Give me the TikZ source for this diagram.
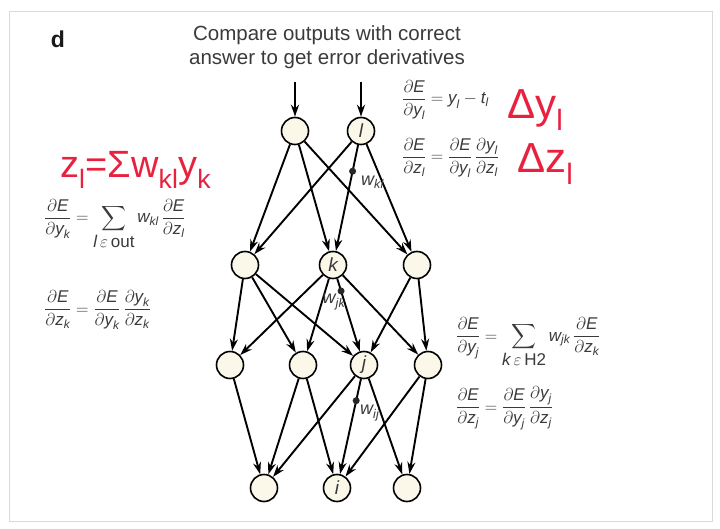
\documentclass[tikz,border=0pt]{standalone}
\usepackage{amsmath}
\usepackage{exscale}
\usepackage{fontspec}
\setmainfont{Liberation Sans}
\usetikzlibrary{arrows.meta,calc}
\definecolor{txt}{HTML}{3A3A3A}
\definecolor{cream}{HTML}{FBF8EA}
\definecolor{handred}{HTML}{E8213F}
\newcommand\I[1]{\textit{#1}}
\newcommand\pdf[3]{\dfrac{\partial\I{#1}}{\partial\I{#2}_{\I{#3}}}}
\newcommand\pdg[4]{\dfrac{\partial\I{#1}_{\I{#2}}}{\partial\I{#3}_{\I{#4}}}}
\tikzset{
  neuron/.style={circle, draw=black, fill=cream, line width=1.6pt, minimum size=27pt, inner sep=0pt, text=txt, font=\fontsize{19}{19}\selectfont\itshape},
  arr/.style={-{Stealth[length=12pt,width=8pt]}, line width=1.9pt},
  wdot/.style={circle, fill=black!85, inner sep=0pt, minimum size=7pt},
  eq/.style={text=txt, font=\fontsize{17}{20}\selectfont, anchor=base west, inner sep=0pt},
  wlab/.style={text=txt, font=\fontsize{18}{18}\selectfont, inner sep=0pt},
  hand/.style={text=handred, font=\fontsize{38}{38}\selectfont, anchor=west, inner sep=0pt}
}
\begin{document}
\begin{tikzpicture}[x=1pt,y=-1pt]
\useasboundingbox (0,0) rectangle (720,529);
\draw[black!15, line width=1pt] (9,12) rectangle (712,521);

% labels
\node[font=\fontsize{23}{23}\selectfont\bfseries, text=black!90] (d) at (58,39) {d};
\node[align=center, text=txt, font=\fontsize{20.5}{23.5}\selectfont] (title) at (327,47) {Compare outputs with correct\\answer to get error derivatives};

% neurons
\node[neuron] (t1) at (295,131) {};
\node[neuron] (l)  at (361,131) {l};
\node[neuron] (a1) at (245,265) {};
\node[neuron] (k)  at (333,265) {k};
\node[neuron] (a3) at (417,265) {};
\node[neuron] (b1) at (230,365) {};
\node[neuron] (b2) at (303,365) {};
\node[neuron] (j)  at (364,365) {j};
\node[neuron] (b4) at (428,365) {};
\node[neuron] (c1) at (264,488) {};
\node[neuron] (i)  at (337,488) {i};
\node[neuron] (c3) at (407,488) {};

\coordinate (in1) at (295,82);
\coordinate (in2) at (361,82);

% connectors
\draw[arr] (in1) -- (t1);
\draw[arr] (in2) -- (l);
\foreach \s/\t in {t1/a1,t1/k,t1/a3,l/a1,l/k,l/a3,
                   a1/b1,a1/b2,a1/j,k/b1,k/b2,k/j,k/b4,a3/j,a3/b4,
                   b1/c1,b2/c1,b2/i,j/c1,j/i,j/c3,b4/i,b4/c3}
  \draw[arr] (\s) -- (\t);

% weights
\node[wdot] (dkl) at ($(l)!0.3!(k)$) {};
\node[wlab, anchor=west] (wkl) at (361,182) {$\I{w}_{\I{kl}}$};
\node[wdot] (djk) at ($(k)!0.26!(j)$) {};
\node[wlab] (wjk) at (334,302) {$\I{w}_{\I{jk}}$};
\node[wdot] (dij) at ($(j)!0.29!(i)$) {};
\node[wlab, anchor=west] (wij) at (360,413) {$\I{w}_{\I{ij}}$};

% equations
\node[eq] (e1) at (402,104) {$\pdf{E}{y}{l} = \I{y}_{\I{l}} - \I{t}_{\I{l}}$};
\node[eq] (e2) at (402,162) {$\pdf{E}{z}{l} = \pdf{E}{y}{l}\,\pdg{y}{l}{z}{l}$};
\node[eq] (e3) at (44,223) {$\displaystyle\pdf{E}{y}{k} = \sum_{\textstyle\I{l}\,\varepsilon\,\text{out}} \I{w}_{\I{kl}}\,\pdf{E}{z}{l}$};
\node[eq] (e4) at (44,314) {$\pdf{E}{z}{k} = \pdf{E}{y}{k}\,\pdg{y}{k}{z}{k}$};
\node[eq] (e5) at (456,341) {$\displaystyle\pdf{E}{y}{j} = \sum_{\textstyle\I{k}\,\varepsilon\,\text{H2}} \I{w}_{\I{jk}}\,\pdf{E}{z}{k}$};
\node[eq] (e6) at (456,412) {$\pdf{E}{z}{j} = \pdf{E}{y}{j}\,\pdg{y}{j}{z}{j}$};

% handwritten notes
\node[hand] (h1) at (60,170) {z\textsubscript{l}=Σw\textsubscript{kl}y\textsubscript{k}};
\node[hand, font=\fontsize{42}{42}\selectfont] (h2) at (507,110) {Δy\textsubscript{l}};
\node[hand, font=\fontsize{42}{42}\selectfont] (h3) at (517,164) {Δz\textsubscript{l}};
\end{tikzpicture}
\end{document}
